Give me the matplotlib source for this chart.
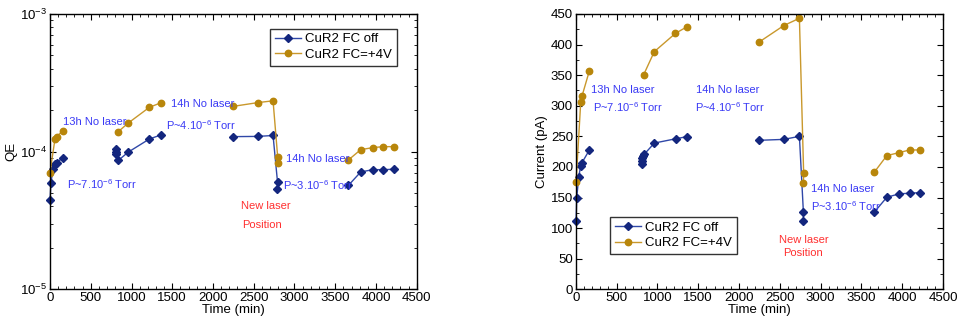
import numpy as np
import matplotlib
matplotlib.use("Agg")
import matplotlib.pyplot as plt
from matplotlib.ticker import MultipleLocator, LogLocator, NullFormatter

plt.rcParams['font.family'] = ['Liberation Sans', 'DejaVu Sans']
plt.rcParams['mathtext.fontset'] = 'custom'
plt.rcParams['mathtext.rm'] = 'Liberation Sans'
plt.rcParams['mathtext.it'] = 'Liberation Sans'
plt.rcParams['mathtext.bf'] = 'Liberation Sans'

nan = np.nan

# Quantum efficiency, FC off
qe_off_t = [0, 12, 37, 61, 80, 160, nan, 806, 808, 812, 840, 958, 1220, 1358, nan,
            2242, 2549, 2737, 2792, 2788, nan, 3662, 3813, 3965, 4092, 4223]
qe_off = [4.43e-5, 5.96e-5, 7.45e-5, 8.1e-5, 8.3e-5, 9.05e-5, nan,
          1.04e-4, 1.0e-4, 9.6e-5, 8.65e-5, 9.9e-5, 1.236e-4, 1.32e-4, nan,
          1.285e-4, 1.29e-4, 1.31e-4, 5.99e-5, 5.32e-5, nan,
          5.69e-5, 7.12e-5, 7.4e-5, 7.4e-5, 7.45e-5]

# Quantum efficiency, FC = +4 V
qe_on_t = [0, 61, 80, 160, nan, 840, 958, 1220, 1358, nan,
           2242, 2549, 2737, 2794, 2794, nan, 3662, 3813, 3965, 4092, 4223]
qe_on = [7.04e-5, 1.236e-4, 1.285e-4, 1.42e-4, nan,
         1.4e-4, 1.61e-4, 2.1e-4, 2.26e-4, nan,
         2.13e-4, 2.27e-4, 2.34e-4, 9.1e-5, 8.23e-5, nan,
         8.7e-5, 1.034e-4, 1.07e-4, 1.087e-4, 1.087e-4]

# Photocurrent (pA), FC off
cur_off_t = [4, 12, 37, 61, 77, 166, nan, 809, 810, 816, 828, 841, 963, 1224, 1362, nan,
             2242, 2548, 2740, 2789, 2789, nan, 3660, 3811, 3962, 4089, 4222]
cur_off = [112, 150, 184, 202, 207, 227.5, nan,
           204, 210, 214.5, 218.5, 221, 239, 246, 249.5, nan,
           243.5, 245, 250, 126, 112, nan,
           126.4, 150.4, 156, 157, 158]

# Photocurrent (pA), FC = +4 V
cur_on_t = [4, 61, 77, 166, nan, 833, 962, 1222, 1362, nan,
            2242, 2548, 2740, 2792, 2789, nan, 3660, 3811, 3962, 4089, 4222]
cur_on = [176, 306, 316, 356.7, nan,
          351, 388.4, 418.4, 429, nan,
          403.7, 431, 443, 190.3, 173.5, nan,
          191.8, 218.5, 223.4, 227.7, 227.7]

label_off = 'CuR2 FC off'
label_on = 'CuR2 FC=+4V'

BLUE_LINE = '#3048a8'
BLUE_MK = '#13267e'
GOLD_LINE = '#c9982c'
GOLD_MK = '#b8860b'
NOTE_BLUE = '#3a3af5'
NOTE_RED = '#ff3030'

NOTE_SIZE = 8
TICK_SIZE = 9.5
LEG_SIZE = 9.5

fig = plt.figure(figsize=(9.58, 3.22), dpi=100)
ax1 = fig.add_axes([0.0522, 0.1016, 0.3828, 0.855])
ax2 = fig.add_axes([0.6010, 0.1016, 0.3834, 0.855])


def draw_series(ax, t, y, kind):
    if kind == 'off':
        ax.plot(t, y, '-', color=BLUE_LINE, lw=1.0, marker='D', ms=3.6,
                mfc=BLUE_MK, mec=BLUE_MK, label=label_off, clip_on=False, zorder=3)
    else:
        ax.plot(t, y, '-', color=GOLD_LINE, lw=1.0, marker='o', ms=4.6,
                mfc=GOLD_MK, mec=GOLD_MK, label=label_on, clip_on=False, zorder=3)


def style_axes(ax):
    for s in ax.spines.values():
        s.set_linewidth(1.0)
        s.set_zorder(4)
    ax.tick_params(which='both', direction='in', top=True, right=True,
                   labelsize=TICK_SIZE, pad=2)
    ax.tick_params(which='major', length=4, width=0.8)
    ax.tick_params(which='minor', length=2, width=0.6)
    ax.set_xlim(0, 4500)
    ax.xaxis.set_major_locator(MultipleLocator(500))
    ax.xaxis.set_minor_locator(MultipleLocator(100))
    ax.set_xlabel('Time (min)', fontsize=TICK_SIZE, labelpad=0)


def boxed_legend(ax, loc, anchor):
    leg = ax.legend(loc=loc, bbox_to_anchor=anchor, fontsize=LEG_SIZE,
                    frameon=True, fancybox=False, handlelength=2.0, handletextpad=0.3,
                    borderpad=0.35, labelspacing=0.25, borderaxespad=0)
    leg.get_frame().set_edgecolor('black')
    leg.get_frame().set_linewidth(1.0)
    return leg


# Left: QE on a log scale
draw_series(ax1, qe_off_t, qe_off, 'off')
draw_series(ax1, qe_on_t, qe_on, 'on')
ax1.set_yscale('log')
ax1.set_ylim(1e-5, 1e-3)
ax1.yaxis.set_major_locator(LogLocator(base=10, numticks=5))
ax1.yaxis.set_minor_locator(LogLocator(base=10, subs=np.arange(2, 10), numticks=20))
ax1.yaxis.set_minor_formatter(NullFormatter())
style_axes(ax1)
ax1.set_ylabel('QE', fontsize=TICK_SIZE, labelpad=2)

kw = dict(fontsize=NOTE_SIZE, color=NOTE_BLUE, va='center', ha='left')
rkw = dict(fontsize=NOTE_SIZE, color=NOTE_RED, va='center')
ax1.text(165, 1.65e-4, '13h No laser', **kw)
ax1.text(205, 5.83e-5, r'P~7.10$^{-6}$ Torr', **kw)
ax1.text(1480, 2.21e-4, '14h No laser', **kw)
ax1.text(1420, 1.55e-4, r'P~4.10$^{-6}$ Torr', **kw)
ax1.text(2893, 8.8e-5, '14h No laser', **kw)
ax1.text(2864, 5.73e-5, r'P~3.10$^{-6}$ Torr', **kw)
ax1.text(2340, 4.03e-5, 'New laser', ha='left', **rkw)
ax1.text(2353, 2.92e-5, 'Position', ha='left', **rkw)

boxed_legend(ax1, 'upper right', (0.946, 0.947))

# Right: photocurrent
draw_series(ax2, cur_off_t, cur_off, 'off')
draw_series(ax2, cur_on_t, cur_on, 'on')
ax2.set_ylim(0, 450)
ax2.yaxis.set_major_locator(MultipleLocator(50))
ax2.yaxis.set_minor_locator(MultipleLocator(25))
style_axes(ax2)
ax2.set_ylabel('Current (pA)', fontsize=TICK_SIZE, labelpad=2)

ax2.text(192, 325, '13h No laser', **kw)
ax2.text(212, 297, r'P~7.10$^{-6}$ Torr', **kw)
ax2.text(1478, 325, '14h No laser', **kw)
ax2.text(1466, 298, r'P~4.10$^{-6}$ Torr', **kw)
ax2.text(2887, 164.5, '14h No laser', **kw)
ax2.text(2879, 136.7, r'P~3.10$^{-6}$ Torr', **kw)
ax2.text(2789, 80, 'New laser', ha='center', **rkw)
ax2.text(2789, 59, 'Position', ha='center', **rkw)

boxed_legend(ax2, 'lower left', (0.094, 0.128))

fig.savefig('out.png', dpi=100)
